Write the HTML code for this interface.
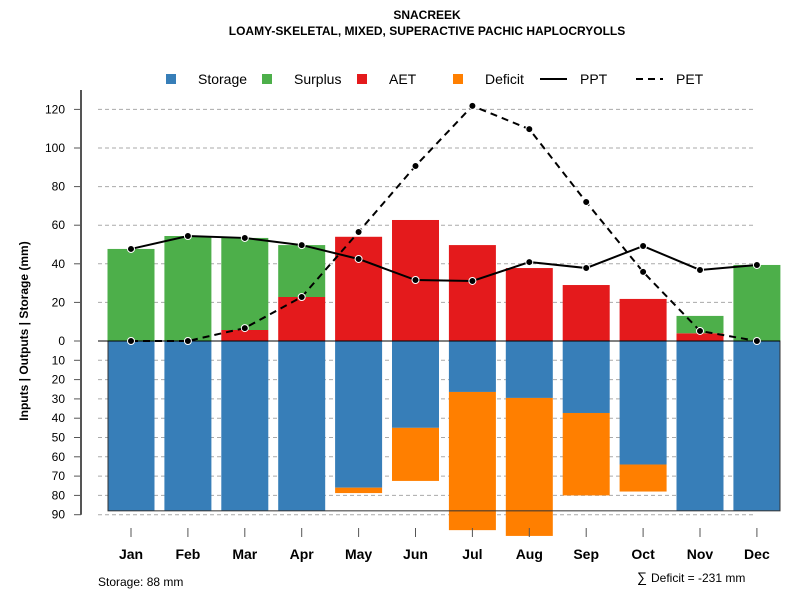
<!DOCTYPE html>
<html><head><meta charset="utf-8"><style>
body{margin:0;background:#fff}
svg{display:block;font-family:"Liberation Sans",Arial,sans-serif}
</style></head><body>
<svg id="c" width="800" height="600" xmlns="http://www.w3.org/2000/svg">
<text x="427" y="19" text-anchor="middle" font-size="12" font-weight="bold">SNACREEK</text>
<text x="427" y="35" text-anchor="middle" font-size="12" font-weight="bold">LOAMY-SKELETAL, MIXED, SUPERACTIVE PACHIC HAPLOCRYOLLS</text>
<g id="grid"></g><g id="bars"></g><g id="lines"></g><g id="axes"></g>
<g font-size="14">
<rect x="166" y="74" width="10" height="10" fill="#377eb8"/>
<text x="198" y="84">Storage</text>
<rect x="262" y="74" width="10" height="10" fill="#4daf4a"/>
<text x="294" y="84">Surplus</text>
<rect x="357" y="74" width="10" height="10" fill="#e41a1c"/>
<text x="389" y="84">AET</text>
<rect x="453" y="74" width="10" height="10" fill="#ff7f00"/>
<text x="485" y="84">Deficit</text>
<line x1="540" y1="79" x2="567" y2="79" stroke="#000" stroke-width="2"/>
<text x="580" y="84">PPT</text>
<line x1="636" y1="79" x2="663" y2="79" stroke="#000" stroke-width="2" stroke-dasharray="7,5"/>
<text x="676" y="84">PET</text>
</g>
<text transform="translate(28,331) rotate(-90)" text-anchor="middle" font-size="12" font-weight="bold">Inputs | Outputs | Storage    (mm)</text>
<text x="98" y="586" font-size="12">Storage: 88 mm</text>
<text x="637" y="582" font-size="14">∑</text>
<text x="651" y="582" font-size="12">Deficit = -231 mm</text>
</svg>
<script>
const months=["Jan","Feb","Mar","Apr","May","Jun","Jul","Aug","Sep","Oct","Nov","Dec"];
const surplus=[47.7,54.4,47.7,26.9,0,0,0,0,0,0,9,39.4];
const aet=[0,0,5.7,22.8,54,62.7,49.7,37.8,29,21.8,4,0];
const storage=[88,88,88,88,76,45,26.4,29.5,37.3,64,88,88];
const deficit=[0,0,0,0,2.8,27.5,71.6,71.5,42.7,14,0,0];
const ppt=[47.7,54.4,53.4,49.7,42.5,31.6,31.1,40.9,37.8,49.2,36.8,39.4];
const pet=[0,0,6.7,22.8,56.5,90.7,121.8,109.8,72,35.8,5.2,0];
const upTicks=[0,20,40,60,80,100,120];
const downTicks=[10,20,30,40,50,60,70,80,90];
const NS="http://www.w3.org/2000/svg";
const y0=341,k=1.93;
const yU=v=>y0-v*k, yD=v=>y0+v*k, xC=i=>131+i*56.9, bw=47;
function mk(t,a,p){const e=document.createElementNS(NS,t);for(const n in a)e.setAttribute(n,a[n]);p.appendChild(e);return e;}
const G=document.getElementById('grid'),B=document.getElementById('bars'),L=document.getElementById('lines'),A=document.getElementById('axes');
upTicks.slice(1).forEach(v=>{const e=mk('line',{x1:98,x2:755,y1:yU(v),y2:yU(v),stroke:'#aaa','stroke-dasharray':'4,3'},G);

});
downTicks.forEach(v=>{const e=mk('line',{x1:98,x2:755,y1:yD(v),y2:yD(v),stroke:'#aaa','stroke-dasharray':'4,3'},G);

});
months.forEach((m,i)=>{const x=xC(i)-bw/2;
let r=mk('rect',{x:x,y:y0,width:bw,height:storage[i]*k,fill:'#377eb8'},B);


if(deficit[i]>0){r=mk('rect',{x:x,y:yD(storage[i]),width:bw,height:deficit[i]*k,fill:'#ff7f00'},B);

}
if(aet[i]>0){r=mk('rect',{x:x,y:yU(aet[i]),width:bw,height:aet[i]*k,fill:'#e41a1c'},B);

}
if(surplus[i]>0){r=mk('rect',{x:x,y:yU(aet[i]+surplus[i]),width:bw,height:surplus[i]*k,fill:'#4daf4a'},B);

}
});
let box=mk('rect',{x:108,y:y0,width:672,height:88*k,fill:'none',stroke:'#333','stroke-width':1},B);


let zl=mk('line',{x1:98,x2:780,y1:y0,y2:y0,stroke:'#000'},B);


function series(vals,dash,name){
const p=mk('polyline',{points:vals.map((v,i)=>xC(i)+','+yU(v)).join(' '),fill:'none',stroke:'#000','stroke-width':2,'stroke-dasharray':dash},L);


vals.forEach((v,i)=>{const c=mk('circle',{cx:xC(i),cy:yU(v),r:3.5,fill:'#000',stroke:'#fff','stroke-width':1},L);

});}
series(ppt,'none','ppt');series(pet,'7,5','pet');
let ax=mk('line',{x1:81,x2:81,y1:90,y2:yD(90),stroke:'#555','stroke-width':2},A);


upTicks.forEach(v=>{mk('line',{x1:74,x2:81,y1:yU(v),y2:yU(v),stroke:'#555'},A);
const t=mk('text',{x:65,y:yU(v)+4,'text-anchor':'end','font-size':12},A);t.textContent=v;

});
downTicks.forEach(v=>{mk('line',{x1:74,x2:81,y1:yD(v),y2:yD(v),stroke:'#555'},A);
const t=mk('text',{x:65,y:yD(v)+4,'text-anchor':'end','font-size':12},A);t.textContent=v;

});
months.forEach((m,i)=>{mk('line',{x1:xC(i),x2:xC(i),y1:528,y2:537,stroke:'#555'},A);
const t=mk('text',{x:xC(i),y:559,'text-anchor':'middle','font-size':14,'font-weight':'bold'},A);t.textContent=m;

});
</script>
</body></html>
